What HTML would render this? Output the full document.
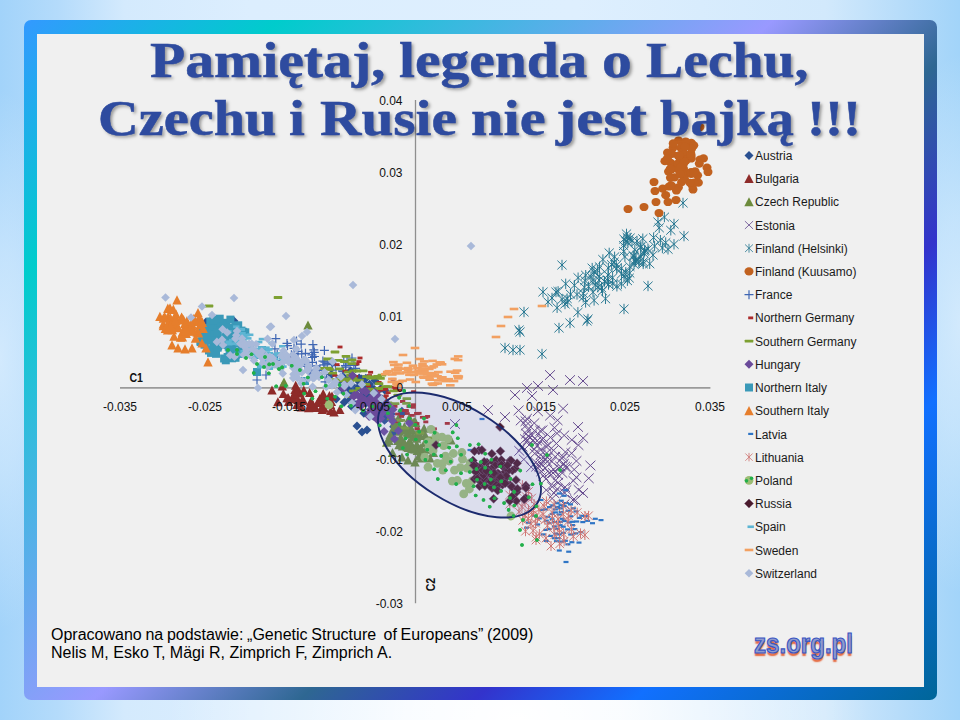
<!DOCTYPE html>
<html lang="pl"><head><meta charset="utf-8"><title>Pamiętaj, legenda o Lechu, Czechu i Rusie nie jest bajką</title>
<style>
html,body{margin:0;padding:0}
body{width:960px;height:720px;overflow:hidden;position:relative;font-family:"Liberation Sans",sans-serif;
 background:
  radial-gradient(ellipse 350px 240px at 54% 100%, #fff 0%, rgba(255,255,255,.85) 30%, rgba(255,255,255,0) 100%),
  radial-gradient(ellipse 70px 270px at 0% 50%, rgba(222,239,254,.8) 0%, rgba(222,239,254,.55) 40%, rgba(222,239,254,0) 100%),
  radial-gradient(ellipse 70px 270px at 100% 45%, rgba(222,239,254,.8) 0%, rgba(222,239,254,.55) 40%, rgba(222,239,254,0) 100%),
  linear-gradient(90deg, #a2d3fa 0%, #b4dbfb 6%, #d4eafd 13%, #dceefe 26%, #deeffe 60%, #d2e9fc 86%, #b6dcfa 94%, #a2d4f9 100%);}
#frame{position:absolute;left:24px;top:20px;width:913px;height:680px;border-radius:7px;
 background:linear-gradient(135deg,#3399ff 0%,#00cccc 16%,#9999ff 47%,#2e6792 60%,#3333cc 71%,#1170ff 81%,#006699 100%);}
#panel{position:absolute;left:37px;top:34px;width:887px;height:653px;background:#f0f0f0;}
#chart{position:absolute;left:0;top:0;width:960px;height:720px;}
.tick{font-size:12px;fill:#111;font-family:"Liberation Sans",sans-serif}
.leg{font-size:12px;fill:#1a1a1a;font-family:"Liberation Sans",sans-serif}
#title{position:absolute;left:0;top:0;width:960px;height:160px;margin:0;
 font-family:"Liberation Serif",serif;font-weight:bold;font-size:50px;line-height:57.5px;color:#2e4b9f;
 text-shadow:2px 2px 3px rgba(0,0,0,.36);-webkit-text-stroke:.5px #2e4b9f;white-space:nowrap}
#title span{position:absolute;display:block;transform-origin:0 50%}
#src{position:absolute;left:51px;top:625.5px;font-size:16px;line-height:18.6px;color:#000;white-space:pre}
#logo{position:absolute;left:754px;top:629px;font-weight:bold;font-size:27px;line-height:30px;color:#8f9bcd;transform-origin:0 0;transform:scaleX(.892);
 -webkit-text-stroke:1.2px #3a55c2;text-shadow:0 2.5px 1.5px #e5673d;white-space:nowrap}
</style></head><body>
<div id="frame"></div>
<div id="panel"></div>
<svg id="chart" width="960" height="720" viewBox="0 0 960 720">
<defs>
 <path id="mAu" d="M0-4.5L4.5 0 0 4.5-4.5 0z" fill="#2a5091"/>
 <path id="mBu" d="M0-4.5L4.7 4.5H-4.7z" fill="#8e2b29"/>
 <path id="mCz" d="M0-4.5L4.7 4.5H-4.7z" fill="#6c8b3c"/>
 <path id="mEs" d="M-5-4.8L5 4.8M5-4.8L-5 4.8" stroke="#664b8f" stroke-width="1" fill="none"/>
 <path id="mFh" d="M-4.6-4.4L4.6 4.4M4.6-4.4L-4.6 4.4M0-5.2V5.2" stroke="#23758f" stroke-width=".95" fill="none"/>
 <ellipse id="mFk" rx="4.5" ry="4.1" fill="#c1611f"/>
 <path id="mFr" d="M-4.5 0H4.5M0-4.5V4.5" stroke="#3f66b3" stroke-width="1.2" fill="none"/>
 <rect id="mNg" x="-2.5" y="-1.4" width="5" height="2.8" fill="#ab2b2b"/>
 <rect id="mSg" x="-4.3" y="-1.4" width="8.6" height="2.8" rx=".6" fill="#7da031"/>
 <path id="mHu" d="M0-4.5L4.5 0 0 4.5-4.5 0z" fill="#6a4a9a"/>
 <rect id="mNi" x="-4" y="-4" width="8" height="8" fill="#3a99b8"/>
 <path id="mSi" d="M0-4.8L4.7 4.5H-4.7z" fill="#e67e2c"/>
 <rect id="mLa" x="-2.5" y="-1.1" width="5" height="2.2" fill="#2f75c5"/>
 <path id="mLi" d="M-4.3-4.3L4.3 4.3M4.3-4.3L-4.3 4.3M0-5V5" stroke="#cd716e" stroke-width=".95" fill="none"/>
 <circle id="mPo" r="4.4" fill="#9cbd74"/>
 <path id="mRu" d="M0-4.5L4.5 0 0 4.5-4.5 0z" fill="#4a1a2c" stroke="#7a5a78" stroke-width=".5"/>
 <rect id="mSp" x="-3.2" y="-1.3" width="6.4" height="2.6" fill="#5db5d3"/>
 <rect id="mSw" x="-4.3" y="-1.3" width="8.6" height="2.6" fill="#f2a061"/>
 <path id="mCh" d="M0-4.3L4.3 0 0 4.3-4.3 0z" fill="#a9b9d9"/>
 <circle id="mDot" r="1.8" fill="#22b04a"/>
</defs>
<!-- axes -->
<path d="M120 387.9H710.4" stroke="#9a9a9a" stroke-width="1.7" fill="none"/><path d="M415.5 100V603.3" stroke="#8f8f8f" stroke-width="1.3" fill="none"/>
<g id="s-austria"><use href="#mAu" x="357.8" y="387.5"/><use href="#mAu" x="340.1" y="383"/><use href="#mAu" x="365.4" y="402.9"/><use href="#mAu" x="352.6" y="403.5"/><use href="#mAu" x="374.7" y="404.4"/><use href="#mAu" x="386.3" y="418.3"/><use href="#mAu" x="349.2" y="394.4"/><use href="#mAu" x="348.9" y="398.7"/><use href="#mAu" x="354.6" y="393"/><use href="#mAu" x="351.2" y="390.6"/><use href="#mAu" x="384.5" y="420.3"/><use href="#mAu" x="361.7" y="379.1"/><use href="#mAu" x="381.8" y="398.7"/><use href="#mAu" x="349.6" y="393.4"/><use href="#mAu" x="341.2" y="389.4"/><use href="#mAu" x="384.7" y="408.2"/><use href="#mAu" x="351.7" y="384.9"/><use href="#mAu" x="391.2" y="414"/><use href="#mAu" x="387.5" y="410.2"/><use href="#mAu" x="367.5" y="399.3"/><use href="#mAu" x="367" y="400.2"/><use href="#mAu" x="375.2" y="414.8"/><use href="#mAu" x="368.3" y="387.5"/><use href="#mAu" x="359.3" y="382"/><use href="#mAu" x="331.3" y="374.5"/><use href="#mAu" x="344.2" y="402.2"/><use href="#mAu" x="363.4" y="379.4"/><use href="#mAu" x="373" y="400.6"/><use href="#mAu" x="380.4" y="407"/><use href="#mAu" x="401.9" y="411.2"/><use href="#mAu" x="372.5" y="395.6"/><use href="#mAu" x="365.9" y="378.3"/><use href="#mAu" x="384.8" y="390.2"/><use href="#mAu" x="370.5" y="403.9"/><use href="#mAu" x="380.9" y="388.5"/><use href="#mAu" x="383.6" y="399.8"/><use href="#mAu" x="374.8" y="397.8"/><use href="#mAu" x="402.6" y="413"/><use href="#mAu" x="361.2" y="396.4"/><use href="#mAu" x="343.5" y="377"/><use href="#mAu" x="361.2" y="396"/><use href="#mAu" x="351.6" y="406.5"/><use href="#mAu" x="393.6" y="426.7"/><use href="#mAu" x="362.8" y="401.2"/><use href="#mAu" x="393.7" y="432.7"/><use href="#mAu" x="380.5" y="399.7"/><use href="#mAu" x="382.4" y="415"/><use href="#mAu" x="368.5" y="396.5"/><use href="#mAu" x="350.6" y="370.8"/><use href="#mAu" x="343.1" y="385.2"/><use href="#mAu" x="373.5" y="393.3"/><use href="#mAu" x="355.4" y="404.8"/><use href="#mAu" x="348" y="380.5"/><use href="#mAu" x="336.2" y="398.9"/><use href="#mAu" x="352.9" y="403.4"/><use href="#mAu" x="382.5" y="399.7"/><use href="#mAu" x="376.2" y="404.9"/><use href="#mAu" x="373.7" y="403.2"/><use href="#mAu" x="374.3" y="407.9"/><use href="#mAu" x="349.6" y="394.2"/><use href="#mAu" x="359.2" y="378"/><use href="#mAu" x="364" y="385.4"/><use href="#mAu" x="360" y="380.8"/><use href="#mAu" x="376.5" y="412.2"/><use href="#mAu" x="348.9" y="399.8"/><use href="#mAu" x="368.3" y="389.6"/><use href="#mAu" x="346.8" y="388.6"/><use href="#mAu" x="363.3" y="397.2"/><use href="#mAu" x="370" y="387.1"/><use href="#mAu" x="362.6" y="386.6"/><use href="#mAu" x="374" y="389.3"/><use href="#mAu" x="380.6" y="409"/><use href="#mAu" x="351.9" y="389.7"/><use href="#mAu" x="360.8" y="388.8"/><use href="#mAu" x="374.8" y="380.6"/><use href="#mAu" x="387.3" y="415.5"/><use href="#mAu" x="356.8" y="405.3"/><use href="#mAu" x="374.7" y="392.2"/><use href="#mAu" x="367.5" y="391"/><use href="#mAu" x="366.8" y="385.8"/><use href="#mAu" x="361.3" y="400.9"/><use href="#mAu" x="363.9" y="413.2"/><use href="#mAu" x="374.2" y="405.5"/><use href="#mAu" x="366.9" y="402.4"/><use href="#mAu" x="369.5" y="384.2"/><use href="#mAu" x="206" y="322"/><use href="#mAu" x="234" y="321"/><use href="#mAu" x="357" y="426"/><use href="#mAu" x="362" y="432"/><use href="#mAu" x="352" y="375"/><use href="#mAu" x="367" y="430"/></g>
<g id="s-bulgaria"><use href="#mBu" x="323.7" y="408"/><use href="#mBu" x="322.3" y="409.4"/><use href="#mBu" x="298.8" y="393.1"/><use href="#mBu" x="295.9" y="391"/><use href="#mBu" x="330.5" y="404.4"/><use href="#mBu" x="297.1" y="391.5"/><use href="#mBu" x="332" y="395.9"/><use href="#mBu" x="301.9" y="400.4"/><use href="#mBu" x="330.8" y="410.5"/><use href="#mBu" x="303.8" y="390"/><use href="#mBu" x="292.1" y="398.2"/><use href="#mBu" x="313.3" y="406.8"/><use href="#mBu" x="324.1" y="408"/><use href="#mBu" x="295.1" y="389.6"/><use href="#mBu" x="310.7" y="401.6"/><use href="#mBu" x="296.9" y="404.6"/><use href="#mBu" x="283.4" y="393.5"/><use href="#mBu" x="295.2" y="398.8"/><use href="#mBu" x="319.8" y="398.5"/><use href="#mBu" x="315.6" y="407.6"/><use href="#mBu" x="299.7" y="392.2"/><use href="#mBu" x="294.5" y="393.8"/><use href="#mBu" x="295.7" y="385.2"/><use href="#mBu" x="323.2" y="393.4"/><use href="#mBu" x="288.3" y="397.8"/><use href="#mBu" x="329.4" y="395.4"/><use href="#mBu" x="288.6" y="401.4"/><use href="#mBu" x="282.3" y="386"/><use href="#mBu" x="297.1" y="391.3"/><use href="#mBu" x="331.4" y="401.4"/><use href="#mBu" x="277.9" y="401.7"/><use href="#mBu" x="320.9" y="399.5"/><use href="#mBu" x="339.8" y="409.4"/><use href="#mBu" x="323.9" y="397.2"/><use href="#mBu" x="308.7" y="407.8"/><use href="#mBu" x="322" y="399.4"/><use href="#mBu" x="287.1" y="397.7"/><use href="#mBu" x="313.1" y="405.6"/><use href="#mBu" x="322" y="406.4"/><use href="#mBu" x="311.4" y="401.6"/><use href="#mBu" x="303.3" y="399.9"/><use href="#mBu" x="317.6" y="402.5"/><use href="#mBu" x="297.8" y="399.3"/><use href="#mBu" x="309.7" y="392.5"/><use href="#mBu" x="310.8" y="402.9"/><use href="#mBu" x="301.3" y="406.9"/><use href="#mBu" x="272" y="390"/><use href="#mBu" x="334" y="412"/></g>
<g id="s-czech"><use href="#mCz" x="424.5" y="442.7"/><use href="#mCz" x="414" y="421.8"/><use href="#mCz" x="410.4" y="442"/><use href="#mCz" x="407.5" y="433"/><use href="#mCz" x="386.7" y="442.3"/><use href="#mCz" x="416.6" y="436.6"/><use href="#mCz" x="416.8" y="444.6"/><use href="#mCz" x="413.1" y="436.8"/><use href="#mCz" x="409.9" y="442.7"/><use href="#mCz" x="417.3" y="450.6"/><use href="#mCz" x="411.9" y="448.8"/><use href="#mCz" x="415.7" y="422.6"/><use href="#mCz" x="389.4" y="437.8"/><use href="#mCz" x="394.7" y="421.3"/><use href="#mCz" x="407" y="446.7"/><use href="#mCz" x="391" y="415.8"/><use href="#mCz" x="404.4" y="426.4"/><use href="#mCz" x="407.5" y="445.3"/><use href="#mCz" x="435.8" y="434.2"/><use href="#mCz" x="394" y="427"/><use href="#mCz" x="402.5" y="446.1"/><use href="#mCz" x="415" y="449"/><use href="#mCz" x="409" y="442.1"/><use href="#mCz" x="416.6" y="438.2"/><use href="#mCz" x="424.1" y="428.3"/><use href="#mCz" x="419.8" y="448.9"/><use href="#mCz" x="395.1" y="423.3"/><use href="#mCz" x="411.9" y="429.6"/><use href="#mCz" x="397.7" y="427.2"/><use href="#mCz" x="389" y="440.4"/><use href="#mCz" x="390.2" y="434.6"/><use href="#mCz" x="420.9" y="447.4"/><use href="#mCz" x="425.7" y="449.2"/><use href="#mCz" x="425.1" y="434.7"/><use href="#mCz" x="398.3" y="425.9"/><use href="#mCz" x="408.4" y="447.6"/><use href="#mCz" x="398.9" y="424.8"/><use href="#mCz" x="397.9" y="440.5"/><use href="#mCz" x="399" y="444.7"/><use href="#mCz" x="409.7" y="428.6"/><use href="#mCz" x="409.4" y="417.6"/><use href="#mCz" x="392.5" y="452.4"/><use href="#mCz" x="412" y="448"/><use href="#mCz" x="413.2" y="436.4"/><use href="#mCz" x="398.7" y="417.5"/><use href="#mCz" x="430" y="441.1"/><use href="#mCz" x="401.9" y="441.9"/><use href="#mCz" x="409.2" y="434.1"/><use href="#mCz" x="433.4" y="452.5"/><use href="#mCz" x="407.9" y="431.8"/><use href="#mCz" x="400.7" y="437.2"/><use href="#mCz" x="420.1" y="435.6"/><use href="#mCz" x="414.8" y="421.8"/><use href="#mCz" x="404.3" y="442.5"/><use href="#mCz" x="399.8" y="431.3"/><use href="#mCz" x="404.4" y="429.4"/><use href="#mCz" x="418.6" y="430.5"/><use href="#mCz" x="418.8" y="456"/><use href="#mCz" x="308" y="325"/><use href="#mCz" x="451" y="440"/><use href="#mCz" x="284" y="382"/><use href="#mCz" x="430" y="458"/><use href="#mCz" x="408" y="460"/><use href="#mCz" x="415" y="462"/><use href="#mCz" x="421" y="458"/><use href="#mCz" x="402" y="457"/></g>
<g id="s-estonia"><use href="#mEs" x="575.3" y="500.3"/><use href="#mEs" x="546.6" y="453"/><use href="#mEs" x="522.4" y="446.6"/><use href="#mEs" x="545.1" y="458.7"/><use href="#mEs" x="546.3" y="490.1"/><use href="#mEs" x="552.2" y="486.7"/><use href="#mEs" x="562.3" y="473"/><use href="#mEs" x="529.2" y="444.9"/><use href="#mEs" x="534.6" y="430.7"/><use href="#mEs" x="525.1" y="439.2"/><use href="#mEs" x="533.1" y="440.2"/><use href="#mEs" x="543.3" y="475.7"/><use href="#mEs" x="563.8" y="463.8"/><use href="#mEs" x="535.8" y="462.2"/><use href="#mEs" x="558" y="474.8"/><use href="#mEs" x="553" y="473"/><use href="#mEs" x="540.4" y="430.9"/><use href="#mEs" x="525.9" y="425.6"/><use href="#mEs" x="555.3" y="480.5"/><use href="#mEs" x="545.2" y="468.2"/><use href="#mEs" x="540.6" y="450"/><use href="#mEs" x="551.9" y="461.6"/><use href="#mEs" x="557.3" y="489"/><use href="#mEs" x="548.1" y="445.5"/><use href="#mEs" x="528" y="429.6"/><use href="#mEs" x="573.4" y="480.8"/><use href="#mEs" x="559.4" y="468.2"/><use href="#mEs" x="520.8" y="420.5"/><use href="#mEs" x="553.7" y="469.6"/><use href="#mEs" x="526.2" y="433.7"/><use href="#mEs" x="526.9" y="418.7"/><use href="#mEs" x="537.1" y="440.8"/><use href="#mEs" x="534.3" y="423.1"/><use href="#mEs" x="564.7" y="493"/><use href="#mEs" x="541.2" y="463.8"/><use href="#mEs" x="534.8" y="453.5"/><use href="#mEs" x="549.3" y="472.9"/><use href="#mEs" x="541.3" y="471.4"/><use href="#mEs" x="564.4" y="504.3"/><use href="#mEs" x="532" y="435.3"/><use href="#mEs" x="539.6" y="466.8"/><use href="#mEs" x="555.2" y="456.7"/><use href="#mEs" x="523.8" y="459.4"/><use href="#mEs" x="563" y="456.7"/><use href="#mEs" x="540.6" y="454.9"/><use href="#mEs" x="547.2" y="461.8"/><use href="#mEs" x="543.4" y="438.4"/><use href="#mEs" x="558.2" y="482.6"/><use href="#mEs" x="554.1" y="493.1"/><use href="#mEs" x="528.5" y="436.6"/><use href="#mEs" x="565" y="466.6"/><use href="#mEs" x="566.3" y="490.1"/><use href="#mEs" x="565" y="487.1"/><use href="#mEs" x="536.3" y="466.6"/><use href="#mEs" x="545.9" y="479"/><use href="#mEs" x="552.1" y="498.5"/><use href="#mEs" x="519.3" y="450.9"/><use href="#mEs" x="531.2" y="467.1"/><use href="#mEs" x="537.3" y="445.6"/><use href="#mEs" x="541.6" y="459.5"/><use href="#mEs" x="565.4" y="452"/><use href="#mEs" x="556.4" y="443.5"/><use href="#mEs" x="534.2" y="449.4"/><use href="#mEs" x="553.5" y="450.3"/><use href="#mEs" x="571.6" y="453.3"/><use href="#mEs" x="576.4" y="477.3"/><use href="#mEs" x="574.2" y="469.5"/><use href="#mEs" x="566.8" y="467.3"/><use href="#mEs" x="554.5" y="427.7"/><use href="#mEs" x="525.6" y="421.2"/><use href="#mEs" x="563.1" y="408.6"/><use href="#mEs" x="537.9" y="411.3"/><use href="#mEs" x="576.4" y="461"/><use href="#mEs" x="518.6" y="410.4"/><use href="#mEs" x="550.5" y="437.4"/><use href="#mEs" x="542.5" y="430.2"/><use href="#mEs" x="590.4" y="465.5"/><use href="#mEs" x="571.8" y="439.9"/><use href="#mEs" x="588.7" y="478.3"/><use href="#mEs" x="578.4" y="445.1"/><use href="#mEs" x="557" y="433.4"/><use href="#mEs" x="583.2" y="438.1"/><use href="#mEs" x="527.6" y="440.2"/><use href="#mEs" x="547.6" y="457.6"/><use href="#mEs" x="578.7" y="489.9"/><use href="#mEs" x="541.9" y="439.5"/><use href="#mEs" x="560.3" y="466.5"/><use href="#mEs" x="546" y="446.5"/><use href="#mEs" x="562" y="458.4"/><use href="#mEs" x="550.2" y="415.6"/><use href="#mEs" x="564.2" y="435.4"/><use href="#mEs" x="557.5" y="420.3"/><use href="#mEs" x="550" y="375"/><use href="#mEs" x="538" y="386"/><use href="#mEs" x="527" y="388"/><use href="#mEs" x="570" y="380"/><use href="#mEs" x="583" y="381"/><use href="#mEs" x="553" y="390"/><use href="#mEs" x="515" y="395"/><use href="#mEs" x="488" y="410"/><use href="#mEs" x="505" y="417"/><use href="#mEs" x="455" y="424"/><use href="#mEs" x="578" y="427"/><use href="#mEs" x="583" y="493"/><use href="#mEs" x="573" y="500"/><use href="#mEs" x="532" y="396"/></g>
<g id="s-finh"><use href="#mFh" x="616.3" y="265.4"/><use href="#mFh" x="594.1" y="300.4"/><use href="#mFh" x="597.9" y="287.1"/><use href="#mFh" x="585.6" y="302.4"/><use href="#mFh" x="629.2" y="278.1"/><use href="#mFh" x="583.3" y="293.5"/><use href="#mFh" x="557.1" y="307.8"/><use href="#mFh" x="616.7" y="268.4"/><use href="#mFh" x="635.6" y="261.3"/><use href="#mFh" x="643.9" y="253.2"/><use href="#mFh" x="584.4" y="287.2"/><use href="#mFh" x="593" y="280.3"/><use href="#mFh" x="614.6" y="256.8"/><use href="#mFh" x="642.8" y="238.7"/><use href="#mFh" x="640.8" y="257.1"/><use href="#mFh" x="583.2" y="297.3"/><use href="#mFh" x="562.1" y="299.3"/><use href="#mFh" x="565.7" y="283.8"/><use href="#mFh" x="570.5" y="294.2"/><use href="#mFh" x="634" y="256.3"/><use href="#mFh" x="624" y="276.1"/><use href="#mFh" x="601.5" y="287.8"/><use href="#mFh" x="612.6" y="277.8"/><use href="#mFh" x="637" y="241"/><use href="#mFh" x="599.1" y="280.1"/><use href="#mFh" x="607.4" y="280.2"/><use href="#mFh" x="594" y="272.1"/><use href="#mFh" x="558.1" y="291.4"/><use href="#mFh" x="585" y="280.6"/><use href="#mFh" x="621.3" y="268.4"/><use href="#mFh" x="595.3" y="285.2"/><use href="#mFh" x="609.2" y="252.9"/><use href="#mFh" x="588.6" y="286.7"/><use href="#mFh" x="604.5" y="281.4"/><use href="#mFh" x="616.9" y="286.3"/><use href="#mFh" x="605.5" y="298.8"/><use href="#mFh" x="567.1" y="298.6"/><use href="#mFh" x="614.1" y="262.1"/><use href="#mFh" x="627.4" y="280.7"/><use href="#mFh" x="599.5" y="266.8"/><use href="#mFh" x="643.2" y="263.9"/><use href="#mFh" x="623.7" y="251.4"/><use href="#mFh" x="593" y="292.3"/><use href="#mFh" x="621.4" y="283.9"/><use href="#mFh" x="608.5" y="284.5"/><use href="#mFh" x="621.5" y="274"/><use href="#mFh" x="602.9" y="259.5"/><use href="#mFh" x="608" y="275"/><use href="#mFh" x="585.7" y="275.2"/><use href="#mFh" x="577.9" y="312.3"/><use href="#mFh" x="591" y="276.7"/><use href="#mFh" x="611.6" y="264.6"/><use href="#mFh" x="577" y="294.5"/><use href="#mFh" x="608.4" y="268.1"/><use href="#mFh" x="624.9" y="256.7"/><use href="#mFh" x="599.3" y="276.3"/><use href="#mFh" x="567.7" y="302.2"/><use href="#mFh" x="597.4" y="270.2"/><use href="#mFh" x="625.8" y="272.2"/><use href="#mFh" x="648" y="248.9"/><use href="#mFh" x="574.4" y="285.3"/><use href="#mFh" x="592.2" y="268.1"/><use href="#mFh" x="629.7" y="273.1"/><use href="#mFh" x="602.5" y="290.9"/><use href="#mFh" x="578.1" y="277.7"/><use href="#mFh" x="612.8" y="283.7"/><use href="#mFh" x="623.6" y="245.6"/><use href="#mFh" x="627.9" y="242.4"/><use href="#mFh" x="630.1" y="238"/><use href="#mFh" x="624" y="239.1"/><use href="#mFh" x="625.8" y="241.2"/><use href="#mFh" x="627.3" y="237.4"/><use href="#mFh" x="632" y="240.9"/><use href="#mFh" x="626.5" y="233.9"/><use href="#mFh" x="644.5" y="251.4"/><use href="#mFh" x="662.4" y="248"/><use href="#mFh" x="653" y="255.1"/><use href="#mFh" x="670.8" y="230.3"/><use href="#mFh" x="654.6" y="246.1"/><use href="#mFh" x="665.7" y="242.6"/><use href="#mFh" x="668" y="249.3"/><use href="#mFh" x="634.8" y="249.8"/><use href="#mFh" x="660.4" y="240.2"/><use href="#mFh" x="684" y="236.1"/><use href="#mFh" x="674" y="244.3"/><use href="#mFh" x="659.2" y="227.8"/><use href="#mFh" x="640.9" y="246.5"/><use href="#mFh" x="649.7" y="263.8"/><use href="#mFh" x="636.1" y="259.6"/><use href="#mFh" x="653.6" y="237.6"/><use href="#mFh" x="664.4" y="217.1"/><use href="#mFh" x="638.9" y="262.3"/><use href="#mFh" x="635" y="260.4"/><use href="#mFh" x="640.7" y="247.5"/><use href="#mFh" x="645" y="250.2"/><use href="#mFh" x="629.9" y="266.6"/><use href="#mFh" x="643.3" y="261.8"/><use href="#mFh" x="633.2" y="255.7"/><use href="#mFh" x="634" y="264.3"/><use href="#mFh" x="562" y="265"/><use href="#mFh" x="543" y="292"/><use href="#mFh" x="556" y="292"/><use href="#mFh" x="524" y="312"/><use href="#mFh" x="519" y="330"/><use href="#mFh" x="520" y="332"/><use href="#mFh" x="505" y="348"/><use href="#mFh" x="513" y="350"/><use href="#mFh" x="520" y="350"/><use href="#mFh" x="542" y="354"/><use href="#mFh" x="559" y="328"/><use href="#mFh" x="570" y="323"/><use href="#mFh" x="588" y="319"/><use href="#mFh" x="587" y="321"/><use href="#mFh" x="624" y="309"/><use href="#mFh" x="648" y="286"/><use href="#mFh" x="683" y="203"/><use href="#mFh" x="658" y="222"/><use href="#mFh" x="674" y="224"/><use href="#mFh" x="552" y="298"/><use href="#mFh" x="548" y="302"/><use href="#mFh" x="565" y="304"/></g>
<g id="s-fink"><use href="#mFk" x="678.5" y="140.5"/><use href="#mFk" x="707" y="167.7"/><use href="#mFk" x="685.7" y="160.9"/><use href="#mFk" x="691.3" y="142.9"/><use href="#mFk" x="693" y="189.5"/><use href="#mFk" x="674.4" y="177.4"/><use href="#mFk" x="673.2" y="147.3"/><use href="#mFk" x="683.8" y="152.8"/><use href="#mFk" x="677" y="165.8"/><use href="#mFk" x="681.6" y="182.2"/><use href="#mFk" x="695.1" y="171.3"/><use href="#mFk" x="687.3" y="156.5"/><use href="#mFk" x="681.1" y="166.4"/><use href="#mFk" x="683.5" y="158.5"/><use href="#mFk" x="692.3" y="185.5"/><use href="#mFk" x="668.5" y="171.6"/><use href="#mFk" x="672" y="153.9"/><use href="#mFk" x="677.3" y="168.8"/><use href="#mFk" x="689.6" y="172.8"/><use href="#mFk" x="684.4" y="178.3"/><use href="#mFk" x="691.2" y="158.5"/><use href="#mFk" x="691.2" y="173.8"/><use href="#mFk" x="698.4" y="182.7"/><use href="#mFk" x="703.5" y="158.4"/><use href="#mFk" x="699.9" y="159.6"/><use href="#mFk" x="671.3" y="169.3"/><use href="#mFk" x="678.3" y="155.9"/><use href="#mFk" x="670.8" y="162.8"/><use href="#mFk" x="673.2" y="143.4"/><use href="#mFk" x="680.1" y="158.3"/><use href="#mFk" x="667.5" y="152.7"/><use href="#mFk" x="679.7" y="163.8"/><use href="#mFk" x="697.6" y="175.3"/><use href="#mFk" x="680.9" y="147.9"/><use href="#mFk" x="681.8" y="146.5"/><use href="#mFk" x="688.1" y="155.7"/><use href="#mFk" x="693.8" y="145.3"/><use href="#mFk" x="691.2" y="172.1"/><use href="#mFk" x="678.4" y="187.4"/><use href="#mFk" x="681.1" y="161.1"/><use href="#mFk" x="682.9" y="152.1"/><use href="#mFk" x="691.1" y="155.8"/><use href="#mFk" x="693.7" y="173.1"/><use href="#mFk" x="670.2" y="168.8"/><use href="#mFk" x="678.1" y="163.4"/><use href="#mFk" x="683.5" y="168.7"/><use href="#mFk" x="699.3" y="163.6"/><use href="#mFk" x="682.2" y="173.7"/><use href="#mFk" x="683.3" y="164.4"/><use href="#mFk" x="694.2" y="182.6"/><use href="#mFk" x="664.9" y="161.2"/><use href="#mFk" x="690.9" y="154"/><use href="#mFk" x="685.7" y="141.5"/><use href="#mFk" x="691.6" y="148.8"/><use href="#mFk" x="684.3" y="161.7"/><use href="#mFk" x="690.1" y="182.9"/><use href="#mFk" x="667.4" y="158.3"/><use href="#mFk" x="680.8" y="167.1"/><use href="#mFk" x="680.2" y="174"/><use href="#mFk" x="679.1" y="155.5"/><use href="#mFk" x="685" y="146.7"/><use href="#mFk" x="670.4" y="177.8"/><use href="#mFk" x="671.5" y="185.6"/><use href="#mFk" x="676.4" y="190.5"/><use href="#mFk" x="665.7" y="195.2"/><use href="#mFk" x="662.7" y="188.6"/><use href="#mFk" x="669.2" y="186.5"/><use href="#mFk" x="670.7" y="185.6"/><use href="#mFk" x="628" y="209"/><use href="#mFk" x="644" y="207"/><use href="#mFk" x="656" y="202"/><use href="#mFk" x="659" y="213"/><use href="#mFk" x="668" y="202"/><use href="#mFk" x="676" y="200"/><use href="#mFk" x="655" y="191"/><use href="#mFk" x="654" y="182"/><use href="#mFk" x="700" y="127"/><use href="#mFk" x="708" y="172"/></g>
<g id="s-france"><use href="#mFr" x="309" y="372.1"/><use href="#mFr" x="342.5" y="370.9"/><use href="#mFr" x="294.1" y="356.3"/><use href="#mFr" x="314.5" y="356.5"/><use href="#mFr" x="287.5" y="345.6"/><use href="#mFr" x="327.2" y="363.7"/><use href="#mFr" x="305.2" y="364.6"/><use href="#mFr" x="275.8" y="338.6"/><use href="#mFr" x="312.4" y="357.5"/><use href="#mFr" x="305.5" y="362.1"/><use href="#mFr" x="322.1" y="374.1"/><use href="#mFr" x="319.6" y="370.3"/><use href="#mFr" x="310.1" y="370.2"/><use href="#mFr" x="322.9" y="361.1"/><use href="#mFr" x="298" y="351.3"/><use href="#mFr" x="305.3" y="366.5"/><use href="#mFr" x="324.4" y="350.4"/><use href="#mFr" x="312.9" y="344.6"/><use href="#mFr" x="311.9" y="354.9"/><use href="#mFr" x="311.2" y="372.7"/><use href="#mFr" x="287" y="343.4"/><use href="#mFr" x="345.4" y="365.7"/><use href="#mFr" x="343.2" y="371.5"/><use href="#mFr" x="301.2" y="344.2"/><use href="#mFr" x="274.9" y="348.8"/><use href="#mFr" x="331.9" y="362"/><use href="#mFr" x="298.6" y="364.1"/><use href="#mFr" x="294" y="348.3"/><use href="#mFr" x="291.4" y="354.8"/><use href="#mFr" x="313.8" y="349.8"/><use href="#mFr" x="332.6" y="370.2"/><use href="#mFr" x="314.3" y="352.3"/><use href="#mFr" x="301.7" y="353.8"/><use href="#mFr" x="277.5" y="360.6"/><use href="#mFr" x="296.5" y="341"/><use href="#mFr" x="355.6" y="368.4"/><use href="#mFr" x="347" y="360.5"/><use href="#mFr" x="353.9" y="365.5"/><use href="#mFr" x="292.4" y="359.4"/><use href="#mFr" x="277.2" y="354.2"/><use href="#mFr" x="343.1" y="371.6"/><use href="#mFr" x="303.8" y="360.5"/><use href="#mFr" x="316.4" y="365.9"/><use href="#mFr" x="312.3" y="362.3"/><use href="#mFr" x="296.4" y="360.6"/><use href="#mFr" x="323.8" y="364.8"/><use href="#mFr" x="345.7" y="384.3"/><use href="#mFr" x="335.4" y="365.7"/><use href="#mFr" x="294.4" y="353.7"/><use href="#mFr" x="297.2" y="360.8"/><use href="#mFr" x="352.9" y="390.8"/><use href="#mFr" x="343.8" y="361"/><use href="#mFr" x="326.5" y="377"/><use href="#mFr" x="340.8" y="377.5"/><use href="#mFr" x="336" y="375.7"/><use href="#mFr" x="332.1" y="364.6"/><use href="#mFr" x="345.9" y="367.1"/><use href="#mFr" x="325.1" y="381.9"/><use href="#mFr" x="324.9" y="362.2"/><use href="#mFr" x="305.5" y="353.3"/><use href="#mFr" x="266" y="375"/><use href="#mFr" x="352" y="358"/><use href="#mFr" x="257" y="380"/></g>
<g id="s-nger"><use href="#mNg" x="417" y="428.6"/><use href="#mNg" x="413.4" y="404.7"/><use href="#mNg" x="386" y="401.1"/><use href="#mNg" x="405.6" y="410.5"/><use href="#mNg" x="397.5" y="421.7"/><use href="#mNg" x="395" y="406.4"/><use href="#mNg" x="447.3" y="423.4"/><use href="#mNg" x="407.2" y="413.5"/><use href="#mNg" x="417.3" y="413.7"/><use href="#mNg" x="370.6" y="372.3"/><use href="#mNg" x="388.2" y="392.6"/><use href="#mNg" x="393.1" y="379.3"/><use href="#mNg" x="368.6" y="386"/><use href="#mNg" x="409" y="406.5"/><use href="#mNg" x="399.3" y="390.3"/><use href="#mNg" x="337" y="364.6"/><use href="#mNg" x="402.7" y="401.5"/><use href="#mNg" x="334.8" y="375.3"/><use href="#mNg" x="389.4" y="407.8"/><use href="#mNg" x="379.1" y="382.4"/><use href="#mNg" x="398.5" y="395.6"/><use href="#mNg" x="369.5" y="375.6"/><use href="#mNg" x="434.4" y="428.8"/><use href="#mNg" x="413.6" y="391.7"/><use href="#mNg" x="397.6" y="414"/><use href="#mNg" x="409.4" y="423.5"/><use href="#mNg" x="358.9" y="361.6"/><use href="#mNg" x="401.8" y="410.5"/><use href="#mNg" x="438.9" y="439.1"/><use href="#mNg" x="385.6" y="389.2"/><use href="#mNg" x="395.4" y="388.6"/><use href="#mNg" x="351.2" y="382.3"/><use href="#mNg" x="394.2" y="387.2"/><use href="#mNg" x="380.8" y="401"/><use href="#mNg" x="377.7" y="393.1"/><use href="#mNg" x="401.6" y="416.4"/><use href="#mNg" x="425.9" y="417.5"/><use href="#mNg" x="386.2" y="395.7"/><use href="#mNg" x="413.3" y="407.3"/><use href="#mNg" x="373.4" y="402.3"/><use href="#mNg" x="402.6" y="401.4"/><use href="#mNg" x="406.4" y="410.6"/><use href="#mNg" x="422.4" y="417.3"/><use href="#mNg" x="416.9" y="423.5"/><use href="#mNg" x="380.1" y="390.2"/><use href="#mNg" x="412.3" y="415.4"/><use href="#mNg" x="419.1" y="413.3"/><use href="#mNg" x="416.6" y="413.4"/><use href="#mNg" x="384.8" y="397.7"/><use href="#mNg" x="382" y="387.6"/><use href="#mNg" x="427.6" y="416.4"/><use href="#mNg" x="425.8" y="421.9"/><use href="#mNg" x="354.4" y="376.2"/><use href="#mNg" x="383.7" y="389.4"/><use href="#mNg" x="355.7" y="376.4"/><use href="#mNg" x="360" y="358"/><use href="#mNg" x="357" y="364"/><use href="#mNg" x="345" y="371"/><use href="#mNg" x="340" y="347"/></g>
<g id="s-sger"><use href="#mSg" x="353.4" y="390.8"/><use href="#mSg" x="352.9" y="378.4"/><use href="#mSg" x="339.5" y="368.9"/><use href="#mSg" x="371.9" y="378.1"/><use href="#mSg" x="348.3" y="396.3"/><use href="#mSg" x="377.8" y="409.4"/><use href="#mSg" x="385.6" y="386.6"/><use href="#mSg" x="354.2" y="380"/><use href="#mSg" x="373.6" y="404.5"/><use href="#mSg" x="363.2" y="370.8"/><use href="#mSg" x="380.1" y="404.5"/><use href="#mSg" x="406.5" y="403.4"/><use href="#mSg" x="353.6" y="370.8"/><use href="#mSg" x="349.9" y="381"/><use href="#mSg" x="342.5" y="380.9"/><use href="#mSg" x="393.5" y="390.9"/><use href="#mSg" x="372.2" y="376.9"/><use href="#mSg" x="344.4" y="361.6"/><use href="#mSg" x="359.5" y="380.1"/><use href="#mSg" x="332.7" y="373.2"/><use href="#mSg" x="346" y="356.3"/><use href="#mSg" x="370.5" y="377.8"/><use href="#mSg" x="323.6" y="368.4"/><use href="#mSg" x="366.5" y="376.7"/><use href="#mSg" x="335" y="379.7"/><use href="#mSg" x="329.5" y="369.4"/><use href="#mSg" x="379" y="383.7"/><use href="#mSg" x="350.4" y="375.4"/><use href="#mSg" x="380.5" y="378.4"/><use href="#mSg" x="348.5" y="372.2"/><use href="#mSg" x="374.4" y="393.8"/><use href="#mSg" x="352.6" y="396.6"/><use href="#mSg" x="327.6" y="359"/><use href="#mSg" x="378.8" y="388.5"/><use href="#mSg" x="376.9" y="404"/><use href="#mSg" x="322" y="373.6"/><use href="#mSg" x="346.3" y="379"/><use href="#mSg" x="397.9" y="395.1"/><use href="#mSg" x="377.7" y="376.5"/><use href="#mSg" x="406.8" y="398.7"/><use href="#mSg" x="369.3" y="389.1"/><use href="#mSg" x="395.1" y="403.6"/><use href="#mSg" x="327.7" y="368.1"/><use href="#mSg" x="371.7" y="392.1"/><use href="#mSg" x="387.9" y="386.6"/><use href="#mSg" x="366.6" y="390.3"/><use href="#mSg" x="381.9" y="375.2"/><use href="#mSg" x="400.8" y="420.3"/><use href="#mSg" x="375" y="396.9"/><use href="#mSg" x="338.4" y="360.3"/><use href="#mSg" x="365.7" y="384.3"/><use href="#mSg" x="359.7" y="388.4"/><use href="#mSg" x="388" y="403"/><use href="#mSg" x="373.1" y="397.3"/><use href="#mSg" x="351.9" y="363.7"/><use href="#mSg" x="420" y="433"/><use href="#mSg" x="432" y="438"/><use href="#mSg" x="405" y="428"/><use href="#mSg" x="445" y="447"/><use href="#mSg" x="209" y="306"/><use href="#mSg" x="278" y="297.5"/><use href="#mSg" x="335" y="352"/><use href="#mSg" x="352" y="360"/><use href="#mSg" x="357" y="371"/></g>
<g id="s-hungary"><use href="#mHu" x="389.5" y="415.1"/><use href="#mHu" x="382.3" y="406.6"/><use href="#mHu" x="361.7" y="398.3"/><use href="#mHu" x="368.8" y="401.9"/><use href="#mHu" x="360.6" y="400.9"/><use href="#mHu" x="398.4" y="430.7"/><use href="#mHu" x="382.8" y="410.8"/><use href="#mHu" x="366.1" y="391.6"/><use href="#mHu" x="353.2" y="396.9"/><use href="#mHu" x="371" y="397.7"/><use href="#mHu" x="358" y="403.6"/><use href="#mHu" x="382.2" y="402.3"/><use href="#mHu" x="383.5" y="410"/><use href="#mHu" x="363" y="402.3"/><use href="#mHu" x="343.1" y="388.8"/><use href="#mHu" x="360.5" y="396.7"/><use href="#mHu" x="375.9" y="413.3"/><use href="#mHu" x="375.3" y="407.4"/><use href="#mHu" x="370.4" y="409.7"/><use href="#mHu" x="363.5" y="400.3"/><use href="#mHu" x="357.2" y="394.8"/><use href="#mHu" x="366.1" y="391.9"/><use href="#mHu" x="369.5" y="403.4"/><use href="#mHu" x="390.6" y="416.2"/><use href="#mHu" x="386.2" y="410"/><use href="#mHu" x="364.8" y="400.1"/><use href="#mHu" x="394.5" y="439"/><use href="#mHu" x="377.5" y="413.6"/><use href="#mHu" x="384.1" y="431.6"/><use href="#mHu" x="362.9" y="390.3"/><use href="#mHu" x="374" y="398.9"/><use href="#mHu" x="378.9" y="412.4"/><use href="#mHu" x="369.1" y="416.6"/><use href="#mHu" x="377.4" y="411"/><use href="#mHu" x="374" y="408.4"/><use href="#mHu" x="380.7" y="414.1"/><use href="#mHu" x="380.8" y="418.6"/><use href="#mHu" x="393" y="409.6"/><use href="#mHu" x="379.6" y="411.6"/><use href="#mHu" x="360.7" y="406.3"/><use href="#mHu" x="354.4" y="395.3"/><use href="#mHu" x="377.1" y="395.2"/><use href="#mHu" x="370.3" y="412.2"/><use href="#mHu" x="392.5" y="420.9"/><use href="#mHu" x="409.4" y="423"/><use href="#mHu" x="388.2" y="404.9"/><use href="#mHu" x="377.3" y="401.2"/><use href="#mHu" x="373.3" y="416.2"/><use href="#mHu" x="374.7" y="413.5"/><use href="#mHu" x="379.2" y="415.1"/><use href="#mHu" x="381.8" y="413.6"/><use href="#mHu" x="375.1" y="404.7"/><use href="#mHu" x="375.3" y="392.7"/><use href="#mHu" x="377.6" y="419.9"/><use href="#mHu" x="352.5" y="375.7"/><use href="#mHu" x="293" y="359"/><use href="#mHu" x="345" y="385"/></g>
<g id="s-nitaly"><use href="#mNi" x="228.8" y="330.7"/><use href="#mNi" x="239.2" y="333.7"/><use href="#mNi" x="209.3" y="349.1"/><use href="#mNi" x="228.7" y="346.8"/><use href="#mNi" x="214.6" y="343.6"/><use href="#mNi" x="216.9" y="327.1"/><use href="#mNi" x="215.2" y="346.3"/><use href="#mNi" x="227.6" y="357"/><use href="#mNi" x="235" y="331.9"/><use href="#mNi" x="228.2" y="328"/><use href="#mNi" x="224.7" y="329"/><use href="#mNi" x="210.7" y="333.4"/><use href="#mNi" x="238.2" y="325.3"/><use href="#mNi" x="229.3" y="342.9"/><use href="#mNi" x="214" y="341.3"/><use href="#mNi" x="225.8" y="360.3"/><use href="#mNi" x="226.4" y="338.1"/><use href="#mNi" x="242.4" y="341.4"/><use href="#mNi" x="245.3" y="332.3"/><use href="#mNi" x="216.9" y="321.5"/><use href="#mNi" x="207.9" y="340.6"/><use href="#mNi" x="228.4" y="333.9"/><use href="#mNi" x="215.7" y="322.3"/><use href="#mNi" x="235.6" y="354.8"/><use href="#mNi" x="235.5" y="357.8"/><use href="#mNi" x="225.4" y="324.8"/><use href="#mNi" x="203.6" y="328.1"/><use href="#mNi" x="217.3" y="345.8"/><use href="#mNi" x="215.6" y="319.7"/><use href="#mNi" x="235.5" y="354.8"/><use href="#mNi" x="209" y="350.5"/><use href="#mNi" x="200.9" y="342"/><use href="#mNi" x="203.1" y="329.1"/><use href="#mNi" x="231.6" y="337.4"/><use href="#mNi" x="243.1" y="331.8"/><use href="#mNi" x="235" y="351.8"/><use href="#mNi" x="223.4" y="343.1"/><use href="#mNi" x="236.9" y="343.5"/><use href="#mNi" x="228" y="335.3"/><use href="#mNi" x="204.9" y="328.5"/><use href="#mNi" x="211" y="352.9"/><use href="#mNi" x="206.8" y="328.5"/><use href="#mNi" x="200.4" y="341.5"/><use href="#mNi" x="215.8" y="344.6"/><use href="#mNi" x="232.2" y="346.2"/><use href="#mNi" x="241.1" y="353.4"/><use href="#mNi" x="238.6" y="353.8"/><use href="#mNi" x="226" y="324.6"/><use href="#mNi" x="233.5" y="341.9"/><use href="#mNi" x="237.6" y="333.7"/><use href="#mNi" x="225.5" y="332.1"/><use href="#mNi" x="237.1" y="342.7"/><use href="#mNi" x="218.1" y="346.4"/><use href="#mNi" x="212.7" y="326.4"/><use href="#mNi" x="212.2" y="334.7"/><use href="#mNi" x="214.1" y="344.7"/><use href="#mNi" x="210.5" y="334.8"/><use href="#mNi" x="210.3" y="321.5"/><use href="#mNi" x="216" y="353.8"/><use href="#mNi" x="241.9" y="350.2"/><use href="#mNi" x="206.4" y="335.7"/><use href="#mNi" x="217.2" y="336.5"/><use href="#mNi" x="225.5" y="337.7"/><use href="#mNi" x="229.6" y="352.8"/><use href="#mNi" x="241.5" y="330.6"/><use href="#mNi" x="234.8" y="332"/><use href="#mNi" x="206.8" y="333.8"/><use href="#mNi" x="224.6" y="344.9"/><use href="#mNi" x="220.6" y="343.8"/><use href="#mNi" x="233.3" y="339.4"/><use href="#mNi" x="235.8" y="326.1"/><use href="#mNi" x="224" y="322.8"/><use href="#mNi" x="201.6" y="341.3"/><use href="#mNi" x="217.6" y="347.7"/><use href="#mNi" x="222.6" y="344.1"/><use href="#mNi" x="235.6" y="340.2"/><use href="#mNi" x="217.5" y="332.3"/><use href="#mNi" x="212" y="340.6"/><use href="#mNi" x="224.1" y="329"/><use href="#mNi" x="204.5" y="344.7"/><use href="#mNi" x="219.7" y="318.7"/><use href="#mNi" x="239.7" y="340.4"/><use href="#mNi" x="232.1" y="358.3"/><use href="#mNi" x="224.1" y="358.5"/><use href="#mNi" x="203.4" y="337"/><use href="#mNi" x="230.4" y="319.6"/><use href="#mNi" x="235.1" y="330.3"/><use href="#mNi" x="213.5" y="320.3"/><use href="#mNi" x="257" y="372"/><use href="#mNi" x="305" y="381"/><use href="#mNi" x="262" y="350"/><use href="#mNi" x="255" y="355"/></g>
<g id="s-sitaly"><use href="#mSi" x="163.3" y="325.8"/><use href="#mSi" x="168.2" y="316.4"/><use href="#mSi" x="198" y="319.8"/><use href="#mSi" x="185" y="331.2"/><use href="#mSi" x="169.4" y="327.2"/><use href="#mSi" x="200" y="324.7"/><use href="#mSi" x="170" y="326.5"/><use href="#mSi" x="182.4" y="336.9"/><use href="#mSi" x="187.6" y="324.3"/><use href="#mSi" x="170.3" y="327.2"/><use href="#mSi" x="174.3" y="321.5"/><use href="#mSi" x="197.1" y="332.2"/><use href="#mSi" x="174" y="336.2"/><use href="#mSi" x="194.7" y="321.4"/><use href="#mSi" x="200" y="320.1"/><use href="#mSi" x="189.1" y="329"/><use href="#mSi" x="174.5" y="317.6"/><use href="#mSi" x="203.1" y="328.4"/><use href="#mSi" x="174.1" y="318.5"/><use href="#mSi" x="173.8" y="324.7"/><use href="#mSi" x="174.8" y="324.1"/><use href="#mSi" x="167.8" y="308.4"/><use href="#mSi" x="182.4" y="332.3"/><use href="#mSi" x="159.9" y="316.6"/><use href="#mSi" x="186.2" y="333.4"/><use href="#mSi" x="175.6" y="322.6"/><use href="#mSi" x="198.5" y="333.1"/><use href="#mSi" x="170.3" y="317.7"/><use href="#mSi" x="175.8" y="324.5"/><use href="#mSi" x="167.2" y="325.9"/><use href="#mSi" x="173.9" y="324.9"/><use href="#mSi" x="193.8" y="331.1"/><use href="#mSi" x="176.1" y="314.3"/><use href="#mSi" x="191.9" y="324"/><use href="#mSi" x="172.3" y="329.8"/><use href="#mSi" x="163.3" y="324.1"/><use href="#mSi" x="184.7" y="323.7"/><use href="#mSi" x="163.4" y="318.2"/><use href="#mSi" x="181.7" y="317.5"/><use href="#mSi" x="190.2" y="329.9"/><use href="#mSi" x="164.6" y="316.6"/><use href="#mSi" x="182.5" y="333.1"/><use href="#mSi" x="178.2" y="327.7"/><use href="#mSi" x="192.1" y="325.7"/><use href="#mSi" x="183.5" y="319.9"/><use href="#mSi" x="202.3" y="322.4"/><use href="#mSi" x="169.4" y="321.5"/><use href="#mSi" x="198" y="312.8"/><use href="#mSi" x="176.5" y="319.4"/><use href="#mSi" x="193.9" y="318.6"/><use href="#mSi" x="201.5" y="321.5"/><use href="#mSi" x="173.3" y="309.4"/><use href="#mSi" x="165.4" y="328.6"/><use href="#mSi" x="181.6" y="317.4"/><use href="#mSi" x="195.5" y="338.2"/><use href="#mSi" x="168.3" y="322.9"/><use href="#mSi" x="171.4" y="323.7"/><use href="#mSi" x="186.9" y="321"/><use href="#mSi" x="180.5" y="337.3"/><use href="#mSi" x="170.6" y="325.6"/><use href="#mSi" x="191.9" y="331.2"/><use href="#mSi" x="167.6" y="330.1"/><use href="#mSi" x="175.6" y="320.4"/><use href="#mSi" x="184.8" y="327.5"/><use href="#mSi" x="185.3" y="330.8"/><use href="#mSi" x="172" y="345"/><use href="#mSi" x="178" y="348"/><use href="#mSi" x="185" y="349"/><use href="#mSi" x="192" y="348"/><use href="#mSi" x="202" y="343"/><use href="#mSi" x="206" y="348"/><use href="#mSi" x="208" y="362"/><use href="#mSi" x="177" y="300"/><use href="#mSi" x="170" y="308"/></g>
<g id="s-latvia"><use href="#mLa" x="579" y="542.6"/><use href="#mLa" x="562.2" y="518.8"/><use href="#mLa" x="555.4" y="512.4"/><use href="#mLa" x="587.6" y="520.8"/><use href="#mLa" x="545.7" y="529.9"/><use href="#mLa" x="552.1" y="513.9"/><use href="#mLa" x="547.8" y="516.8"/><use href="#mLa" x="526.6" y="527.7"/><use href="#mLa" x="573.4" y="508.3"/><use href="#mLa" x="561.2" y="500.7"/><use href="#mLa" x="559.3" y="534.4"/><use href="#mLa" x="554.4" y="526.4"/><use href="#mLa" x="556.4" y="541.2"/><use href="#mLa" x="572.6" y="521.8"/><use href="#mLa" x="585.8" y="516.2"/><use href="#mLa" x="559.3" y="550.5"/><use href="#mLa" x="563.3" y="526.7"/><use href="#mLa" x="564.1" y="495.8"/><use href="#mLa" x="563.4" y="532.8"/><use href="#mLa" x="557.2" y="503.2"/><use href="#mLa" x="561.7" y="541.6"/><use href="#mLa" x="568.7" y="551.7"/><use href="#mLa" x="554.4" y="538.2"/><use href="#mLa" x="592.5" y="523.2"/><use href="#mLa" x="576" y="511.4"/><use href="#mLa" x="537.6" y="524.5"/><use href="#mLa" x="559.4" y="493.5"/><use href="#mLa" x="561.1" y="512"/><use href="#mLa" x="543.3" y="534.4"/><use href="#mLa" x="555.7" y="533.6"/><use href="#mLa" x="555.4" y="509.4"/><use href="#mLa" x="528.5" y="522.7"/><use href="#mLa" x="546.3" y="520.7"/><use href="#mLa" x="572.6" y="525.1"/><use href="#mLa" x="550.5" y="535.9"/><use href="#mLa" x="546.2" y="540.9"/><use href="#mLa" x="574.9" y="529.1"/><use href="#mLa" x="549.1" y="529"/><use href="#mLa" x="579.4" y="517.9"/><use href="#mLa" x="576.7" y="521.5"/><use href="#mLa" x="545.5" y="509.4"/><use href="#mLa" x="566.4" y="503.1"/><use href="#mLa" x="567.6" y="529.4"/><use href="#mLa" x="564.1" y="506.1"/><use href="#mLa" x="570.7" y="534.5"/><use href="#mLa" x="560.4" y="521.8"/><use href="#mLa" x="567.9" y="544.3"/><use href="#mLa" x="534.6" y="515.8"/><use href="#mLa" x="580.9" y="532.2"/><use href="#mLa" x="554.5" y="522.1"/><use href="#mLa" x="569.3" y="522.4"/><use href="#mLa" x="560.2" y="525.2"/><use href="#mLa" x="595.3" y="518.8"/><use href="#mLa" x="557.5" y="507"/><use href="#mLa" x="560.4" y="508.4"/><use href="#mLa" x="549.5" y="507.1"/><use href="#mLa" x="561" y="505.2"/><use href="#mLa" x="565.4" y="540.8"/><use href="#mLa" x="552.1" y="519.3"/><use href="#mLa" x="558.2" y="538.2"/><use href="#mLa" x="549.1" y="523.1"/><use href="#mLa" x="565.6" y="490.2"/><use href="#mLa" x="582.8" y="522.1"/><use href="#mLa" x="559.4" y="514.5"/><use href="#mLa" x="542.3" y="509.9"/><use href="#mLa" x="552.3" y="505.4"/><use href="#mLa" x="575.7" y="533.4"/><use href="#mLa" x="581.9" y="515.8"/><use href="#mLa" x="601" y="520.1"/><use href="#mLa" x="570.7" y="516.3"/><use href="#mLa" x="570.5" y="504.4"/><use href="#mLa" x="568" y="510.8"/><use href="#mLa" x="571.9" y="542.2"/><use href="#mLa" x="539.3" y="518.4"/><use href="#mLa" x="564.3" y="521"/><use href="#mLa" x="557" y="528.8"/><use href="#mLa" x="566" y="562"/><use href="#mLa" x="482" y="419"/><use href="#mLa" x="470" y="450"/><use href="#mLa" x="541" y="500"/></g>
<g id="s-lithuania"><use href="#mLi" x="537.4" y="518.3"/><use href="#mLi" x="534.1" y="504.1"/><use href="#mLi" x="571.4" y="529.2"/><use href="#mLi" x="571.1" y="510.4"/><use href="#mLi" x="531.8" y="514.8"/><use href="#mLi" x="584.9" y="535"/><use href="#mLi" x="528.5" y="509.7"/><use href="#mLi" x="528.3" y="518.6"/><use href="#mLi" x="568.7" y="516"/><use href="#mLi" x="567.9" y="521.5"/><use href="#mLi" x="563.3" y="505.9"/><use href="#mLi" x="544.9" y="519.8"/><use href="#mLi" x="554.7" y="534.8"/><use href="#mLi" x="547.4" y="525.8"/><use href="#mLi" x="553.7" y="526.9"/><use href="#mLi" x="559.5" y="532.3"/><use href="#mLi" x="544.2" y="506.2"/><use href="#mLi" x="525.5" y="531.2"/><use href="#mLi" x="558.4" y="525.3"/><use href="#mLi" x="580.5" y="533.4"/><use href="#mLi" x="522" y="506.7"/><use href="#mLi" x="530.9" y="523.8"/><use href="#mLi" x="573.3" y="536.5"/><use href="#mLi" x="517.8" y="502.2"/><use href="#mLi" x="539.4" y="534"/><use href="#mLi" x="552.5" y="518.6"/><use href="#mLi" x="564.1" y="541.2"/><use href="#mLi" x="509.8" y="504.1"/><use href="#mLi" x="517" y="491.3"/><use href="#mLi" x="524.9" y="515.6"/><use href="#mLi" x="531.6" y="498.1"/><use href="#mLi" x="546" y="538.1"/><use href="#mLi" x="522.4" y="485.2"/><use href="#mLi" x="563.2" y="514.3"/><use href="#mLi" x="519" y="511.8"/><use href="#mLi" x="525.1" y="502.2"/><use href="#mLi" x="546.4" y="501.4"/><use href="#mLi" x="538.9" y="509.5"/><use href="#mLi" x="526.1" y="496.5"/><use href="#mLi" x="533.1" y="530.7"/><use href="#mLi" x="509.6" y="494.9"/><use href="#mLi" x="577.2" y="512.6"/><use href="#mLi" x="535.6" y="523.2"/><use href="#mLi" x="543.1" y="514.5"/><use href="#mLi" x="536.1" y="537.2"/><use href="#mLi" x="563.7" y="534.1"/><use href="#mLi" x="588.5" y="515.8"/><use href="#mLi" x="522.8" y="520.3"/><use href="#mLi" x="528.5" y="491.5"/><use href="#mLi" x="552.1" y="512.5"/><use href="#mLi" x="558" y="518.9"/><use href="#mLi" x="554.1" y="504.5"/><use href="#mLi" x="559.7" y="543.8"/><use href="#mLi" x="533.4" y="510.5"/><use href="#mLi" x="536" y="540"/><use href="#mLi" x="551" y="546"/><use href="#mLi" x="585" y="516"/></g>
<g id="s-poland"><use href="#mPo" x="460.3" y="467.6"/><use href="#mPo" x="454.5" y="470.2"/><use href="#mPo" x="461.9" y="452.5"/><use href="#mPo" x="472.2" y="480.9"/><use href="#mPo" x="443.6" y="445.6"/><use href="#mPo" x="433.1" y="450.4"/><use href="#mPo" x="474.6" y="470"/><use href="#mPo" x="445.5" y="456.1"/><use href="#mPo" x="467.1" y="468.1"/><use href="#mPo" x="462.5" y="459.2"/><use href="#mPo" x="453.3" y="453.5"/><use href="#mPo" x="431" y="429.4"/><use href="#mPo" x="424.8" y="457.2"/><use href="#mPo" x="428.8" y="447.6"/><use href="#mPo" x="452.3" y="481.1"/><use href="#mPo" x="428" y="467.2"/><use href="#mPo" x="442" y="437.2"/><use href="#mPo" x="442.3" y="463.7"/><use href="#mPo" x="449.2" y="461"/><use href="#mPo" x="463.7" y="493.9"/><use href="#mPo" x="482.5" y="484.4"/><use href="#mPo" x="466.3" y="483.4"/><use href="#mPo" x="470.1" y="462.9"/><use href="#mPo" x="442.8" y="470.1"/><use href="#mPo" x="437.4" y="463.4"/><use href="#mPo" x="480.9" y="472.2"/><use href="#mPo" x="428" y="441.9"/><use href="#mPo" x="457.4" y="480.5"/><use href="#mPo" x="435" y="441.9"/><use href="#mPo" x="469.4" y="489"/><use href="#mPo" x="436" y="436"/><use href="#mPo" x="448" y="439"/><use href="#mPo" x="511" y="516"/><use href="#mPo" x="329" y="405"/></g>
<g id="s-russia"><use href="#mRu" x="515.2" y="468.5"/><use href="#mRu" x="499.4" y="474.4"/><use href="#mRu" x="491.8" y="453.8"/><use href="#mRu" x="480.9" y="467.5"/><use href="#mRu" x="493.3" y="486.9"/><use href="#mRu" x="478.8" y="450.4"/><use href="#mRu" x="487" y="462.4"/><use href="#mRu" x="479.5" y="486.2"/><use href="#mRu" x="494.9" y="477.9"/><use href="#mRu" x="484.2" y="461.8"/><use href="#mRu" x="512.4" y="470.6"/><use href="#mRu" x="498.4" y="463.6"/><use href="#mRu" x="492.7" y="472.7"/><use href="#mRu" x="488" y="471.9"/><use href="#mRu" x="486.5" y="474.9"/><use href="#mRu" x="500.9" y="464.1"/><use href="#mRu" x="482.3" y="474.6"/><use href="#mRu" x="493.1" y="462.4"/><use href="#mRu" x="509.8" y="460.8"/><use href="#mRu" x="482" y="481.5"/><use href="#mRu" x="497.9" y="473.2"/><use href="#mRu" x="485.8" y="474.4"/><use href="#mRu" x="484.5" y="478.6"/><use href="#mRu" x="525.9" y="485.8"/><use href="#mRu" x="496.1" y="478"/><use href="#mRu" x="504.1" y="465.4"/><use href="#mRu" x="510.1" y="485.1"/><use href="#mRu" x="492" y="488.1"/><use href="#mRu" x="525.7" y="498"/><use href="#mRu" x="496.1" y="474.2"/><use href="#mRu" x="481.9" y="450"/><use href="#mRu" x="478.9" y="467.2"/><use href="#mRu" x="516" y="480"/><use href="#mRu" x="474.5" y="451.2"/><use href="#mRu" x="496.1" y="460"/><use href="#mRu" x="481" y="482"/><use href="#mRu" x="511" y="460.4"/><use href="#mRu" x="497.3" y="486.4"/><use href="#mRu" x="492.3" y="470.8"/><use href="#mRu" x="505.3" y="468.8"/><use href="#mRu" x="491.3" y="482.3"/><use href="#mRu" x="493.6" y="498.8"/><use href="#mRu" x="492.7" y="476.6"/><use href="#mRu" x="517.1" y="463.3"/><use href="#mRu" x="505.4" y="482.5"/><use href="#mRu" x="514.4" y="489.4"/><use href="#mRu" x="495.3" y="465.5"/><use href="#mRu" x="505.2" y="471.8"/><use href="#mRu" x="485.5" y="480.6"/><use href="#mRu" x="478.5" y="472"/><use href="#mRu" x="491.5" y="468.8"/><use href="#mRu" x="511.8" y="486.7"/><use href="#mRu" x="483.5" y="478.3"/><use href="#mRu" x="524.1" y="499.3"/><use href="#mRu" x="503.7" y="482.7"/><use href="#mRu" x="477.5" y="469.6"/><use href="#mRu" x="516.2" y="500.9"/><use href="#mRu" x="474.6" y="464.2"/><use href="#mRu" x="481" y="471.5"/><use href="#mRu" x="483.4" y="475.1"/><use href="#mRu" x="475.7" y="471.9"/><use href="#mRu" x="501.4" y="460"/><use href="#mRu" x="502.5" y="484.7"/><use href="#mRu" x="488.3" y="469.3"/><use href="#mRu" x="474.4" y="478.9"/><use href="#mRu" x="506.5" y="477.3"/><use href="#mRu" x="490.6" y="486.5"/><use href="#mRu" x="509.8" y="500.9"/><use href="#mRu" x="525.9" y="488.1"/><use href="#mRu" x="508.1" y="470.8"/><use href="#mRu" x="497.6" y="480.5"/><use href="#mRu" x="482.7" y="470.3"/><use href="#mRu" x="512.3" y="496.3"/><use href="#mRu" x="477.4" y="478.6"/><use href="#mRu" x="506.1" y="475.9"/><use href="#mRu" x="472.9" y="460.6"/><use href="#mRu" x="501.4" y="464.9"/><use href="#mRu" x="488.7" y="472.1"/><use href="#mRu" x="497.2" y="485.2"/><use href="#mRu" x="516.7" y="491.9"/><use href="#mRu" x="517.5" y="488.7"/><use href="#mRu" x="500.4" y="451.2"/><use href="#mRu" x="507.5" y="465.3"/><use href="#mRu" x="473.7" y="465.6"/><use href="#mRu" x="486.2" y="471"/><use href="#mRu" x="505.1" y="483.3"/><use href="#mRu" x="484.9" y="485.8"/><use href="#mRu" x="493.6" y="482.5"/><use href="#mRu" x="494" y="473.1"/><use href="#mRu" x="497.6" y="490.5"/><use href="#mRu" x="490.7" y="481.5"/><use href="#mRu" x="500.4" y="477.4"/><use href="#mRu" x="436" y="445"/><use href="#mRu" x="500" y="427"/></g>
<g id="s-spain"><use href="#mSp" x="256.6" y="356.6"/><use href="#mSp" x="249.5" y="351.1"/><use href="#mSp" x="250.7" y="351"/><use href="#mSp" x="239.1" y="341.3"/><use href="#mSp" x="236.6" y="355.1"/><use href="#mSp" x="248.7" y="349.8"/><use href="#mSp" x="243.5" y="351.3"/><use href="#mSp" x="281.8" y="363.7"/><use href="#mSp" x="248.3" y="338.4"/><use href="#mSp" x="241.6" y="329.9"/><use href="#mSp" x="238.2" y="343.9"/><use href="#mSp" x="290.5" y="360.5"/><use href="#mSp" x="260.1" y="356.8"/><use href="#mSp" x="278.4" y="354.5"/><use href="#mSp" x="268.2" y="357.6"/><use href="#mSp" x="247.1" y="354.8"/><use href="#mSp" x="254.2" y="357.8"/><use href="#mSp" x="228.4" y="331.4"/><use href="#mSp" x="270.5" y="358.1"/><use href="#mSp" x="276.9" y="353.5"/><use href="#mSp" x="250.1" y="354.4"/><use href="#mSp" x="246.9" y="335"/><use href="#mSp" x="261.9" y="339.1"/><use href="#mSp" x="229.2" y="344.1"/><use href="#mSp" x="241.8" y="329.2"/><use href="#mSp" x="269.8" y="353.2"/><use href="#mSp" x="242.8" y="344.7"/><use href="#mSp" x="265.7" y="360.5"/><use href="#mSp" x="273.4" y="357.9"/><use href="#mSp" x="268.2" y="363.1"/><use href="#mSp" x="242.5" y="333.3"/><use href="#mSp" x="242.5" y="355.3"/><use href="#mSp" x="229.7" y="343.8"/><use href="#mSp" x="281.3" y="355.4"/><use href="#mSp" x="233.6" y="343.8"/><use href="#mSp" x="238.4" y="337.5"/><use href="#mSp" x="273.1" y="357.2"/><use href="#mSp" x="249.7" y="354.5"/><use href="#mSp" x="228.5" y="341.7"/><use href="#mSp" x="245.6" y="355.6"/><use href="#mSp" x="269.5" y="357.3"/><use href="#mSp" x="261.3" y="355.4"/><use href="#mSp" x="258.9" y="349"/><use href="#mSp" x="239.9" y="354"/><use href="#mSp" x="238.8" y="344.3"/><use href="#mSp" x="256.7" y="350.7"/><use href="#mSp" x="244.3" y="337.1"/><use href="#mSp" x="275.2" y="359"/><use href="#mSp" x="252.4" y="348.8"/><use href="#mSp" x="252.9" y="351.3"/><use href="#mSp" x="250.8" y="346.6"/><use href="#mSp" x="261.1" y="347.5"/><use href="#mSp" x="263.5" y="361.6"/><use href="#mSp" x="266.5" y="347.7"/><use href="#mSp" x="282.7" y="359.8"/><use href="#mSp" x="260.1" y="367.2"/><use href="#mSp" x="269.9" y="368.7"/><use href="#mSp" x="238.9" y="340.4"/><use href="#mSp" x="277.2" y="355.4"/><use href="#mSp" x="245.8" y="350.7"/><use href="#mSp" x="242.7" y="335.2"/><use href="#mSp" x="236.4" y="343.5"/><use href="#mSp" x="259.2" y="342.1"/><use href="#mSp" x="274.6" y="365.3"/><use href="#mSp" x="270.1" y="360.5"/><use href="#mSp" x="244.6" y="342.1"/><use href="#mSp" x="267" y="350.5"/><use href="#mSp" x="232.2" y="340.2"/><use href="#mSp" x="247.4" y="343.9"/><use href="#mSp" x="282.2" y="346.3"/><use href="#mSp" x="236.3" y="326.7"/><use href="#mSp" x="273.2" y="357.1"/><use href="#mSp" x="267.3" y="357.6"/><use href="#mSp" x="282.1" y="358.3"/><use href="#mSp" x="283.5" y="366.6"/><use href="#mSp" x="281" y="353.7"/><use href="#mSp" x="271.6" y="342.8"/><use href="#mSp" x="260.2" y="364.7"/><use href="#mSp" x="276.6" y="366.9"/><use href="#mSp" x="250.2" y="334.8"/><use href="#mSp" x="281.8" y="366.5"/><use href="#mSp" x="269.3" y="349.5"/><use href="#mSp" x="250.8" y="352.2"/><use href="#mSp" x="253" y="354.8"/><use href="#mSp" x="253" y="343.3"/><use href="#mSp" x="274.1" y="366.5"/><use href="#mSp" x="277.1" y="365.4"/><use href="#mSp" x="255.5" y="354"/><use href="#mSp" x="263.3" y="356.9"/><use href="#mSp" x="242.5" y="336.9"/></g>
<g id="s-sweden"><use href="#mSw" x="417.4" y="368.3"/><use href="#mSw" x="437.5" y="376.3"/><use href="#mSw" x="422.5" y="366.1"/><use href="#mSw" x="442.1" y="364.3"/><use href="#mSw" x="392.3" y="374.5"/><use href="#mSw" x="397.8" y="370.5"/><use href="#mSw" x="432.5" y="360.9"/><use href="#mSw" x="418.8" y="373.1"/><use href="#mSw" x="424.1" y="376.9"/><use href="#mSw" x="458.2" y="356.4"/><use href="#mSw" x="396.5" y="384.1"/><use href="#mSw" x="458.8" y="376.5"/><use href="#mSw" x="457.4" y="376.1"/><use href="#mSw" x="393.4" y="362.1"/><use href="#mSw" x="422.5" y="364.1"/><use href="#mSw" x="432.9" y="374.9"/><use href="#mSw" x="439.7" y="362.4"/><use href="#mSw" x="457" y="370.6"/><use href="#mSw" x="423.2" y="373.3"/><use href="#mSw" x="458.1" y="360.1"/><use href="#mSw" x="397.8" y="385.6"/><use href="#mSw" x="423.9" y="377.7"/><use href="#mSw" x="423.8" y="366.5"/><use href="#mSw" x="458.3" y="378.3"/><use href="#mSw" x="385.2" y="374.2"/><use href="#mSw" x="440.3" y="362.9"/><use href="#mSw" x="430.7" y="375.8"/><use href="#mSw" x="436.8" y="364.5"/><use href="#mSw" x="432.9" y="384.9"/><use href="#mSw" x="429.3" y="369"/><use href="#mSw" x="445.9" y="381.1"/><use href="#mSw" x="391.8" y="381.9"/><use href="#mSw" x="442.4" y="377.3"/><use href="#mSw" x="423.2" y="376.8"/><use href="#mSw" x="424.3" y="370.3"/><use href="#mSw" x="454" y="381.1"/><use href="#mSw" x="392.4" y="378.9"/><use href="#mSw" x="408.2" y="369.1"/><use href="#mSw" x="410.1" y="379.5"/><use href="#mSw" x="429.7" y="379.7"/><use href="#mSw" x="418.7" y="370.7"/><use href="#mSw" x="438.3" y="372.1"/><use href="#mSw" x="409.4" y="374.8"/><use href="#mSw" x="423.7" y="373.2"/><use href="#mSw" x="424.2" y="361.4"/><use href="#mSw" x="431.7" y="373.1"/><use href="#mSw" x="434.7" y="383.8"/><use href="#mSw" x="414.2" y="374.9"/><use href="#mSw" x="399.1" y="382.3"/><use href="#mSw" x="395.5" y="369.5"/><use href="#mSw" x="433.8" y="366.4"/><use href="#mSw" x="441.1" y="377.9"/><use href="#mSw" x="400.1" y="373.4"/><use href="#mSw" x="424.3" y="371.7"/><use href="#mSw" x="406.9" y="362.8"/><use href="#mSw" x="399" y="381.7"/><use href="#mSw" x="440.7" y="362.8"/><use href="#mSw" x="432" y="367.5"/><use href="#mSw" x="438.2" y="380.4"/><use href="#mSw" x="455.2" y="372.7"/><use href="#mSw" x="415.8" y="382"/><use href="#mSw" x="417.5" y="371.7"/><use href="#mSw" x="448.9" y="379.2"/><use href="#mSw" x="443.2" y="379.9"/><use href="#mSw" x="450.3" y="385.3"/><use href="#mSw" x="398.2" y="367.5"/><use href="#mSw" x="396.1" y="372.8"/><use href="#mSw" x="422.2" y="369"/><use href="#mSw" x="420.9" y="373.2"/><use href="#mSw" x="394.2" y="364.9"/><use href="#mSw" x="398.5" y="364.6"/><use href="#mSw" x="454.8" y="358.9"/><use href="#mSw" x="437.7" y="383.5"/><use href="#mSw" x="387.2" y="372"/><use href="#mSw" x="408.2" y="368.1"/><use href="#mSw" x="408.1" y="369.9"/><use href="#mSw" x="431.9" y="383.7"/><use href="#mSw" x="410.9" y="372.3"/><use href="#mSw" x="450.6" y="371.7"/><use href="#mSw" x="434.8" y="374.5"/><use href="#mSw" x="406.4" y="372.4"/><use href="#mSw" x="388.9" y="371.2"/><use href="#mSw" x="429.4" y="378"/><use href="#mSw" x="401.2" y="368.7"/><use href="#mSw" x="402.6" y="380.8"/><use href="#mSw" x="413" y="365.7"/><use href="#mSw" x="427.1" y="374.3"/><use href="#mSw" x="419.7" y="359"/><use href="#mSw" x="514" y="309"/><use href="#mSw" x="508" y="317"/><use href="#mSw" x="501" y="326"/><use href="#mSw" x="496" y="337"/><use href="#mSw" x="542" y="306"/><use href="#mSw" x="415" y="348"/><use href="#mSw" x="403" y="355"/></g>
<g id="s-swiss"><use href="#mCh" x="288.6" y="362"/><use href="#mCh" x="283.5" y="350.8"/><use href="#mCh" x="307.6" y="370.7"/><use href="#mCh" x="261.1" y="355.2"/><use href="#mCh" x="293.4" y="366.2"/><use href="#mCh" x="281.3" y="355.6"/><use href="#mCh" x="249.1" y="343.8"/><use href="#mCh" x="267.3" y="366.4"/><use href="#mCh" x="272.4" y="343.7"/><use href="#mCh" x="262.6" y="358.6"/><use href="#mCh" x="240.3" y="343.8"/><use href="#mCh" x="259.7" y="355.4"/><use href="#mCh" x="243.8" y="354.7"/><use href="#mCh" x="308.6" y="367.9"/><use href="#mCh" x="274.9" y="362.4"/><use href="#mCh" x="277.1" y="364.2"/><use href="#mCh" x="277.3" y="365.3"/><use href="#mCh" x="254" y="360.4"/><use href="#mCh" x="250" y="355.4"/><use href="#mCh" x="252.4" y="349.2"/><use href="#mCh" x="292.5" y="364.6"/><use href="#mCh" x="256" y="344.3"/><use href="#mCh" x="269.8" y="356.9"/><use href="#mCh" x="328.7" y="379.9"/><use href="#mCh" x="293.2" y="367.9"/><use href="#mCh" x="316.6" y="368.3"/><use href="#mCh" x="227.2" y="332.5"/><use href="#mCh" x="302.5" y="381"/><use href="#mCh" x="280.7" y="368.4"/><use href="#mCh" x="297.2" y="365.1"/><use href="#mCh" x="235.5" y="338.6"/><use href="#mCh" x="223" y="345"/><use href="#mCh" x="308" y="369"/><use href="#mCh" x="234.5" y="356.8"/><use href="#mCh" x="270.3" y="360.1"/><use href="#mCh" x="288.8" y="359.8"/><use href="#mCh" x="308.6" y="378.5"/><use href="#mCh" x="314.3" y="377.7"/><use href="#mCh" x="283.1" y="356.6"/><use href="#mCh" x="292.9" y="354.7"/><use href="#mCh" x="274.2" y="364.2"/><use href="#mCh" x="293.5" y="374.3"/><use href="#mCh" x="299.8" y="363.4"/><use href="#mCh" x="246.5" y="349.9"/><use href="#mCh" x="242.1" y="338.5"/><use href="#mCh" x="270.5" y="363.6"/><use href="#mCh" x="313" y="378.3"/><use href="#mCh" x="261.8" y="351.6"/><use href="#mCh" x="306.2" y="361"/><use href="#mCh" x="312.5" y="376.2"/><use href="#mCh" x="301.8" y="372.5"/><use href="#mCh" x="308.4" y="365.8"/><use href="#mCh" x="278" y="364.4"/><use href="#mCh" x="272.7" y="358.2"/><use href="#mCh" x="269.2" y="362.4"/><use href="#mCh" x="262.8" y="363.1"/><use href="#mCh" x="286.7" y="355.4"/><use href="#mCh" x="222.1" y="339.8"/><use href="#mCh" x="256.8" y="352.3"/><use href="#mCh" x="305.2" y="359.7"/><use href="#mCh" x="294.5" y="375"/><use href="#mCh" x="283.3" y="361.9"/><use href="#mCh" x="296.2" y="349"/><use href="#mCh" x="216.9" y="341.9"/><use href="#mCh" x="295.5" y="357.5"/><use href="#mCh" x="294.8" y="362"/><use href="#mCh" x="266.2" y="355.9"/><use href="#mCh" x="251.8" y="343.7"/><use href="#mCh" x="282.8" y="373.5"/><use href="#mCh" x="267.8" y="366.6"/><use href="#mCh" x="298.4" y="371.2"/><use href="#mCh" x="298.1" y="372.9"/><use href="#mCh" x="244.6" y="343.3"/><use href="#mCh" x="222.6" y="329.2"/><use href="#mCh" x="230.1" y="355.2"/><use href="#mCh" x="293.1" y="360"/><use href="#mCh" x="301.2" y="383.2"/><use href="#mCh" x="314.9" y="372.3"/><use href="#mCh" x="297.4" y="377.9"/><use href="#mCh" x="244.2" y="346.4"/><use href="#mCh" x="245.9" y="353.9"/><use href="#mCh" x="267.6" y="338.8"/><use href="#mCh" x="296.5" y="372.7"/><use href="#mCh" x="236.3" y="335.3"/><use href="#mCh" x="298.4" y="360.7"/><use href="#mCh" x="335.4" y="381.5"/><use href="#mCh" x="381.6" y="399.1"/><use href="#mCh" x="299.7" y="370.2"/><use href="#mCh" x="337" y="392.1"/><use href="#mCh" x="303.9" y="359.9"/><use href="#mCh" x="361.9" y="384.4"/><use href="#mCh" x="297" y="363.2"/><use href="#mCh" x="373.8" y="393.1"/><use href="#mCh" x="351" y="383.6"/><use href="#mCh" x="344.5" y="384.9"/><use href="#mCh" x="343.6" y="385.1"/><use href="#mCh" x="312.6" y="386.8"/><use href="#mCh" x="335.3" y="384.3"/><use href="#mCh" x="370.3" y="416.5"/><use href="#mCh" x="355.3" y="410.2"/><use href="#mCh" x="300.6" y="364.9"/><use href="#mCh" x="318.7" y="374.7"/><use href="#mCh" x="332" y="385.4"/><use href="#mCh" x="293.2" y="378.1"/><use href="#mCh" x="324.5" y="372.2"/><use href="#mCh" x="326.4" y="387"/><use href="#mCh" x="332.6" y="361.5"/><use href="#mCh" x="344.6" y="386.1"/><use href="#mCh" x="346.4" y="394.7"/><use href="#mCh" x="319.1" y="377"/><use href="#mCh" x="340.9" y="376.8"/><use href="#mCh" x="165.5" y="297.5"/><use href="#mCh" x="234" y="298"/><use href="#mCh" x="202" y="306.5"/><use href="#mCh" x="191" y="317.5"/><use href="#mCh" x="212" y="315"/><use href="#mCh" x="271" y="326.5"/><use href="#mCh" x="237" y="331"/><use href="#mCh" x="286" y="316"/><use href="#mCh" x="270" y="327"/><use href="#mCh" x="294" y="340"/><use href="#mCh" x="302" y="336"/><use href="#mCh" x="307" y="332"/><use href="#mCh" x="353" y="285"/><use href="#mCh" x="471" y="246"/><use href="#mCh" x="395" y="339"/><use href="#mCh" x="352" y="403"/><use href="#mCh" x="258" y="388"/><use href="#mCh" x="243" y="370"/></g>
<g id="s-dots"><use href="#mDot" x="439.2" y="445.1"/><use href="#mDot" x="514.1" y="491.9"/><use href="#mDot" x="399.1" y="397.8"/><use href="#mDot" x="508.6" y="509.9"/><use href="#mDot" x="461" y="473.2"/><use href="#mDot" x="425.4" y="459.9"/><use href="#mDot" x="450.7" y="461.7"/><use href="#mDot" x="419.2" y="431.7"/><use href="#mDot" x="477.1" y="479.8"/><use href="#mDot" x="510.5" y="478.9"/><use href="#mDot" x="513.5" y="516"/><use href="#mDot" x="426" y="441.7"/><use href="#mDot" x="491.4" y="459.8"/><use href="#mDot" x="400.2" y="410.4"/><use href="#mDot" x="461.1" y="454.8"/><use href="#mDot" x="494" y="487.2"/><use href="#mDot" x="434.2" y="469.2"/><use href="#mDot" x="449.2" y="447.6"/><use href="#mDot" x="415.8" y="439.5"/><use href="#mDot" x="456.8" y="446.4"/><use href="#mDot" x="402.9" y="448"/><use href="#mDot" x="489.7" y="506.7"/><use href="#mDot" x="476.5" y="469.1"/><use href="#mDot" x="457.8" y="438.2"/><use href="#mDot" x="441.2" y="455.9"/><use href="#mDot" x="424" y="418.6"/><use href="#mDot" x="469.9" y="445.1"/><use href="#mDot" x="501.1" y="491"/><use href="#mDot" x="456.2" y="484.1"/><use href="#mDot" x="504.1" y="503.1"/><use href="#mDot" x="399.5" y="424"/><use href="#mDot" x="471.4" y="460.1"/><use href="#mDot" x="478.6" y="444.3"/><use href="#mDot" x="433.8" y="454.5"/><use href="#mDot" x="484.6" y="484.1"/><use href="#mDot" x="480.8" y="462"/><use href="#mDot" x="445.8" y="470.3"/><use href="#mDot" x="437.8" y="479.1"/><use href="#mDot" x="405.6" y="438.5"/><use href="#mDot" x="409.5" y="418.5"/><use href="#mDot" x="540.8" y="483.7"/><use href="#mDot" x="514.3" y="505.5"/><use href="#mDot" x="469.8" y="472"/><use href="#mDot" x="485.2" y="453.8"/><use href="#mDot" x="415.4" y="424.7"/><use href="#mDot" x="473.6" y="486.2"/><use href="#mDot" x="532.5" y="484.2"/><use href="#mDot" x="536.3" y="506.3"/><use href="#mDot" x="485.2" y="467.7"/><use href="#mDot" x="452.7" y="432.4"/><use href="#mDot" x="500.3" y="466.5"/><use href="#mDot" x="407.1" y="454.6"/><use href="#mDot" x="490.7" y="472.4"/><use href="#mDot" x="456.4" y="425.1"/><use href="#mDot" x="528.8" y="497.3"/><use href="#mDot" x="434.6" y="432.7"/><use href="#mDot" x="494.5" y="498.2"/><use href="#mDot" x="404.2" y="390.9"/><use href="#mDot" x="475.7" y="495.5"/><use href="#mDot" x="501.2" y="481.4"/><use href="#mDot" x="379.7" y="425.4"/><use href="#mDot" x="490.8" y="479.6"/><use href="#mDot" x="520.2" y="470.6"/><use href="#mDot" x="427.3" y="449.8"/><use href="#mDot" x="483.5" y="500"/><use href="#mDot" x="409.1" y="406"/><use href="#mDot" x="312.4" y="398.6"/><use href="#mDot" x="307.9" y="377.5"/><use href="#mDot" x="389.4" y="406.2"/><use href="#mDot" x="335.1" y="396.8"/><use href="#mDot" x="372.3" y="406.5"/><use href="#mDot" x="315.5" y="391.2"/><use href="#mDot" x="363.1" y="410.6"/><use href="#mDot" x="303.6" y="383.7"/><use href="#mDot" x="269.2" y="364.4"/><use href="#mDot" x="299.9" y="370.1"/><use href="#mDot" x="285.7" y="386"/><use href="#mDot" x="327.3" y="398.8"/><use href="#mDot" x="268.8" y="373.2"/><use href="#mDot" x="276.2" y="386.3"/><use href="#mDot" x="251.5" y="354.3"/><use href="#mDot" x="339.6" y="385.1"/><use href="#mDot" x="387.9" y="413.3"/><use href="#mDot" x="341.4" y="406.2"/><use href="#mDot" x="350.9" y="405.8"/><use href="#mDot" x="253.7" y="373"/><use href="#mDot" x="321.8" y="377.2"/><use href="#mDot" x="282.1" y="367.4"/><use href="#mDot" x="325.7" y="385.8"/><use href="#mDot" x="343.3" y="393.6"/><use href="#mDot" x="291.7" y="365.7"/><use href="#mDot" x="304.1" y="393.6"/><use href="#mDot" x="228" y="350"/><use href="#mDot" x="237" y="350"/><use href="#mDot" x="237" y="354"/><use href="#mDot" x="246" y="358"/><use href="#mDot" x="257" y="364"/><use href="#mDot" x="265" y="357"/><use href="#mDot" x="264" y="367"/><use href="#mDot" x="273" y="364"/><use href="#mDot" x="279" y="369"/><use href="#mDot" x="560" y="470"/><use href="#mDot" x="547" y="455"/><use href="#mDot" x="532" y="445"/><use href="#mDot" x="510" y="498"/><use href="#mDot" x="523" y="520"/><use href="#mDot" x="520" y="530"/><use href="#mDot" x="537" y="540"/><use href="#mDot" x="536" y="516"/><use href="#mDot" x="522" y="545"/></g>
<!-- ellipse -->
<ellipse cx="459.5" cy="455" rx="91.5" ry="46.6" transform="rotate(32 459.5 455)" fill="rgba(120,130,225,.16)" stroke="#1c2b6e" stroke-width="2"/>
<use href="#s-dots"/>
<!-- tick labels -->
<g class="tick" text-anchor="middle">
<text x="120" y="411">-0.035</text><text x="205" y="411">-0.025</text><text x="289" y="411">-0.015</text><text x="373" y="411">-0.005</text>
<text x="457" y="411">0.005</text><text x="541" y="411">0.015</text><text x="625" y="411">0.025</text><text x="710" y="411">0.035</text>
</g>
<g class="tick" text-anchor="end">
<text x="402.5" y="104.5">0.04</text><text x="402.5" y="176.5">0.03</text><text x="402.5" y="248.5">0.02</text><text x="402.5" y="320.5">0.01</text>
<text x="403.3" y="392.3">0</text><text x="403" y="464">-0.01</text><text x="403" y="536">-0.02</text><text x="403" y="608">-0.03</text>
</g>
<text x="129.5" y="382.3" font-size="12" font-weight="bold" fill="#111" font-family="Liberation Sans" textLength="13.5" lengthAdjust="spacingAndGlyphs">C1</text>
<text transform="translate(435 591.3) rotate(-90)" font-size="12" font-weight="bold" fill="#111" font-family="Liberation Sans" textLength="13.5" lengthAdjust="spacingAndGlyphs">C2</text>
<!-- legend -->
<g class="leg">
<use href="#mAu" x="749" y="155.4"/><text x="755" y="160">Austria</text>
<use href="#mBu" x="749" y="178.61"/><text x="755" y="183.21">Bulgaria</text>
<use href="#mCz" x="749" y="201.82"/><text x="755" y="206.42">Czech Republic</text>
<use href="#mEs" transform="translate(749 225.03) scale(0.82)"/><text x="755" y="229.63">Estonia</text>
<use href="#mFh" transform="translate(749 248.24) scale(0.85)"/><text x="755" y="252.84">Finland (Helsinki)</text>
<use href="#mFk" x="749" y="271.45"/><text x="755" y="276.05">Finland (Kuusamo)</text>
<use href="#mFr" x="749" y="294.66"/><text x="755" y="299.26">France</text>
<use href="#mNg" x="750.7" y="317.87"/><text x="755" y="322.47">Northern Germany</text>
<use href="#mSg" x="749" y="341.08"/><text x="755" y="345.68">Southern Germany</text>
<use href="#mHu" x="749" y="364.29"/><text x="755" y="368.89">Hungary</text>
<use href="#mNi" x="749" y="387.5"/><text x="755" y="392.1">Northern Italy</text>
<use href="#mSi" x="749" y="410.71"/><text x="755" y="415.31">Southern Italy</text>
<use href="#mLa" x="750.7" y="433.92"/><text x="755" y="438.52">Latvia</text>
<use href="#mLi" transform="translate(749 457.13) scale(0.85)"/><text x="755" y="461.73">Lithuania</text>
<use href="#mPo" x="749" y="480.34"/><use href="#mDot" x="746.5" y="480.84"/><use href="#mDot" x="751.5" y="478.34"/><text x="755" y="484.94">Poland</text>
<use href="#mRu" x="749" y="503.55"/><text x="755" y="508.15">Russia</text>
<use href="#mSp" x="750.7" y="526.76"/><text x="755" y="531.36">Spain</text>
<use href="#mSw" x="749" y="549.97"/><text x="755" y="554.57">Sweden</text>
<use href="#mCh" x="749" y="573.18"/><text x="755" y="577.78">Switzerland</text>
</g>
</svg>
<h1 id="title"><span style="left:150.29px;top:32.1px;transform:scaleX(1.1542)">Pamiętaj,</span><span style="left:398.59px;top:32.1px;transform:scaleX(1.1491)">legenda</span><span style="left:602.31px;top:32.1px;transform:scaleX(1.1915)">o</span><span style="left:646.08px;top:32.1px;transform:scaleX(1.1143)">Lechu,</span><span style="left:98.23px;top:89.6px;transform:scaleX(1.127)">Czechu</span><span style="left:289.44px;top:89.6px;transform:scaleX(1.1407)">i</span><span style="left:319.79px;top:89.6px;transform:scaleX(1.146)">Rusie</span><span style="left:471.12px;top:89.6px;transform:scaleX(1.1672)">nie</span><span style="left:556.32px;top:89.6px;transform:scaleX(1.2135)">jest</span><span style="left:660.27px;top:89.6px;transform:scaleX(1.0948)">bajką</span><span style="left:806.95px;top:89.6px;transform:scaleX(1.0794)">!!!</span></h1>
<div id="src"><span style="word-spacing:-.75px">Opracowano na podstawie: „Genetic Structure  of Europeans” (2009)</span>
Nelis M, Esko T, Mägi R, Zimprich F, Zimprich A.</div>
<div id="logo">zs.org.pl</div>
</body></html>
